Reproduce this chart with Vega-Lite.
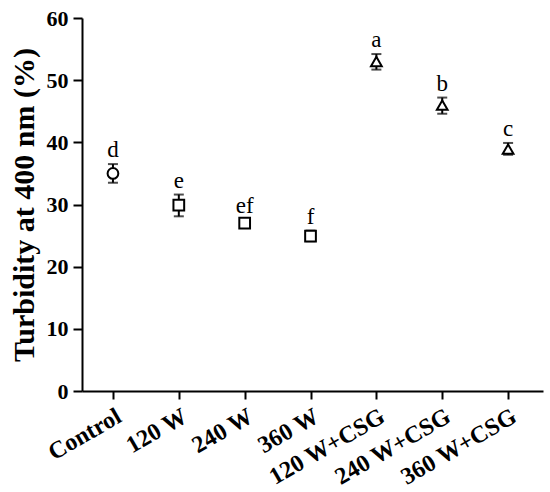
{
  "$schema": "https://vega.github.io/schema/vega-lite/v6.json",
  "width": 461,
  "height": 373,
  "autosize": {"type": "none"},
  "padding": {"left": 82, "top": 18, "right": 7, "bottom": 101},
  "background": "white",
  "config": {"view": {"stroke": null}},
  "data": {
    "values": [
      {"cat": "Control", "mean": 35.0, "lo": 33.5, "hi": 36.5, "letter": "d", "shape": "circle"},
      {"cat": "120 W", "mean": 29.9, "lo": 28.1, "hi": 31.6, "letter": "e", "shape": "square"},
      {"cat": "240 W", "mean": 27.0, "lo": 26.5, "hi": 27.5, "letter": "ef", "shape": "square"},
      {"cat": "360 W", "mean": 24.9, "lo": 24.1, "hi": 25.8, "letter": "f", "shape": "square"},
      {"cat": "120 W+CSG", "mean": 53.0, "lo": 51.7, "hi": 54.2, "letter": "a", "shape": "triangle-up"},
      {"cat": "240 W+CSG", "mean": 46.0, "lo": 44.6, "hi": 47.2, "letter": "b", "shape": "triangle-up"},
      {"cat": "360 W+CSG", "mean": 38.9, "lo": 38.0, "hi": 39.9, "letter": "c", "shape": "triangle-up"}
    ]
  },
  "encoding": {
    "x": {
      "field": "cat", "type": "nominal", "sort": null,
      "scale": {"type": "point", "padding": 0.5, "align": 0.47},
      "axis": {
        "title": null,
        "labelAngle": -30,
        "labelAlign": "right",
        "labelBaseline": "top",
        "labelFont": "Liberation Serif",
        "labelFontWeight": "bold",
        "labelFontSize": 24,
        "labelColor": "black",
        "labelPadding": 5,
        "labelDx": 2,
        "domainColor": "black",
        "domainWidth": 2,
        "tickColor": "black",
        "tickWidth": 2,
        "tickSize": 8,
        "grid": false
      }
    }
  },
  "layer": [
    {
      "mark": {"type": "rule", "color": "black", "strokeWidth": 2},
      "encoding": {
        "y": {"field": "lo", "type": "quantitative",
          "scale": {"domain": [0, 60], "nice": false},
          "axis": {
            "title": "Turbidity at 400 nm (%)",
            "titleFont": "Liberation Serif",
            "titleFontWeight": "bold",
            "titleFontSize": 30,
            "titleColor": "black",
            "titlePadding": 7,
            "values": [0, 5, 10, 15, 20, 25, 30, 35, 40, 45, 50, 55, 60],
            "labelExpr": "datum.value % 10 === 0 ? datum.label : ''",
            "labelFont": "Liberation Serif",
            "labelFontWeight": "bold",
            "labelFontSize": 22,
            "labelColor": "black",
            "labelPadding": 5,
            "domainColor": "black",
            "domainWidth": 2,
            "tickColor": "black",
            "tickWidth": 2,
            "tickSize": {"condition": {"test": "datum.value % 10 === 0", "value": 9}, "value": 5},
            "grid": false
          }
        },
        "y2": {"field": "hi"}
      }
    },
    {
      "mark": {"type": "tick", "color": "black", "thickness": 2, "size": 10},
      "encoding": {"y": {"field": "lo", "type": "quantitative"}}
    },
    {
      "mark": {"type": "tick", "color": "black", "thickness": 2, "size": 10},
      "encoding": {"y": {"field": "hi", "type": "quantitative"}}
    },
    {
      "mark": {"type": "point", "filled": true, "fill": "white", "stroke": "black", "strokeWidth": 2, "size": 115, "opacity": 1},
      "encoding": {
        "y": {"field": "mean", "type": "quantitative"},
        "shape": {"field": "shape", "type": "nominal", "scale": null, "legend": null}
      }
    },
    {
      "mark": {"type": "text", "font": "Liberation Serif", "fontSize": 23, "color": "black", "baseline": "alphabetic", "dy": -7},
      "encoding": {
        "y": {"field": "hi", "type": "quantitative"},
        "text": {"field": "letter"}
      }
    }
  ]
}
